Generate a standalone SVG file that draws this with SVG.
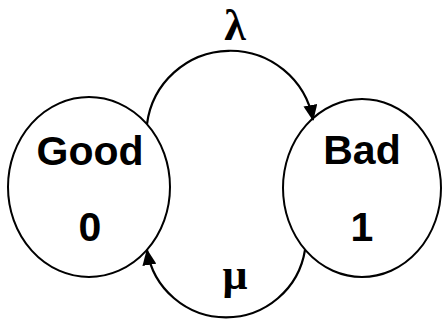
<svg xmlns="http://www.w3.org/2000/svg" width="442" height="325" viewBox="0 0 442 325">
<style>
.node{fill:#fff;stroke:#000;stroke-width:2}
.lbl{font-family:"Liberation Sans",Arial,sans-serif;font-weight:bold;font-size:41px;fill:#000;text-anchor:middle}
.greek{font-family:"Liberation Serif","DejaVu Serif",serif;font-weight:bold;font-size:44px;fill:#000;text-anchor:middle}
.edge{fill:none;stroke:#000;stroke-width:2.2}
</style>
<defs>
<marker id="arrow" markerUnits="userSpaceOnUse" markerWidth="16" markerHeight="14" refX="15" refY="7" orient="auto" viewBox="0 0 16 14">
<path d="M0,0 L16,7 L0,14 Z" fill="#000"/>
</marker>
</defs>
<g id="good">
<ellipse class="node" cx="89" cy="187" rx="81" ry="90"/>
<text class="lbl" x="90" y="165">Good</text>
<text class="lbl" x="90" y="241">0</text>
</g>
<g id="bad">
<ellipse class="node" cx="362" cy="188" rx="79" ry="89"/>
<text class="lbl" x="362" y="164">Bad</text>
<text class="lbl" x="362" y="241">1</text>
</g>
<g id="connectors">
<path class="edge" d="M147,124 A84,84 0 0 1 313,120" marker-end="url(#arrow)"/>
<path class="edge" d="M305,250 A80,80 0 0 1 147,250" marker-end="url(#arrow)"/>
<text class="greek" x="235" y="40">λ</text>
<text class="greek" x="235" y="289">μ</text>
</g>
</svg>
